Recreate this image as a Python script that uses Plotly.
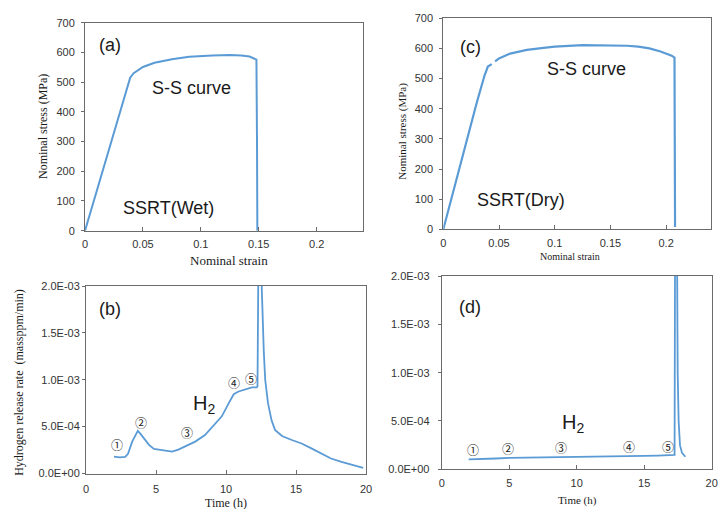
import plotly.graph_objects as go

# ---------------- data ----------------
strain_wet = [0, 0.01, 0.02, 0.03, 0.036, 0.039, 0.042, 0.046, 0.05, 0.06, 0.075, 0.09, 0.1, 0.11,
              0.125, 0.135, 0.142, 0.146, 0.148, 0.1485, 0.1488]
stress_wet = [0, 133, 266, 400, 480, 515, 530, 542, 551, 565, 577, 585, 588, 590,
              591, 590, 586, 580, 576, 300, 0]

strain_dry = [0, 0.01, 0.02, 0.03, 0.037, 0.040, 0.0435, 0.045, 0.0465, 0.05, 0.06, 0.075, 0.09, 0.1,
              0.125, 0.15, 0.165, 0.175, 0.185, 0.195, 0.2, 0.205, 0.2075, 0.2078, 0.208]
stress_dry = [0, 140, 285, 420, 510, 540, 548, None, 557, 567, 583, 595, 602, 606,
              611, 611, 609, 606, 600, 590, 584, 576, 570, 300, 8]

time_wet = [2.0, 2.4, 2.8, 3.0, 3.3, 3.6, 3.7, 3.85, 4.15, 4.5, 4.85, 5.2, 5.5, 5.8, 6.15, 6.6,
            7.1, 7.8, 8.5, 9.2, 9.7, 10.2, 10.55, 10.9, 11.4, 11.85, 12.2, 12.25, 12.4, 12.55,
            12.7, 12.8, 13.0, 13.25, 13.5, 14.0, 14.7, 15.4, 16.1, 16.8, 17.5, 18.25, 18.95, 19.8]
rate_wet = [1.8e-4, 1.72e-4, 1.78e-4, 2.1e-4, 3.4e-4, 4.4e-4, 4.55e-4, 4.3e-4, 3.7e-4, 3.05e-4,
            2.62e-4, 2.55e-4, 2.5e-4, 2.42e-4, 2.33e-4, 2.55e-4, 2.93e-4, 3.4e-4, 4.1e-4, 5.2e-4,
            6.1e-4, 7.5e-4, 8.45e-4, 8.75e-4, 9.0e-4, 9.18e-4, 9.2e-4, 9.3e-4, 4.0e-3, 2.0e-3,
            1.3e-3, 1.0e-3, 7.5e-4, 5.7e-4, 4.65e-4, 4.0e-4, 3.57e-4, 3.2e-4, 2.68e-4, 2.14e-4,
            1.6e-4, 1.25e-4, 0.96e-4, 0.6e-4]

time_dry = [2.0, 3.0, 4.0, 5.0, 6.5, 8.0, 9.0, 10.0, 11.0, 12.5, 14.0, 15.0, 16.0, 17.0, 17.25,
            17.33, 17.42, 17.48, 17.55, 17.65, 17.8, 18.05]
rate_dry = [1.03e-4, 1.05e-4, 1.12e-4, 1.18e-4, 1.2e-4, 1.22e-4, 1.25e-4, 1.28e-4, 1.32e-4,
            1.33e-4, 1.35e-4, 1.38e-4, 1.42e-4, 1.46e-4, 1.48e-4, 5.0e-3, 2.0e-3, 1.0e-3, 5.0e-4,
            2.5e-4, 1.7e-4, 1.3e-4]

stress_ticks = [0, 100, 200, 300, 400, 500, 600, 700]
strain_ticks = [0, 0.05, 0.1, 0.15, 0.2]
strain_labels = ["0", "0.05", "0.1", "0.15", "0.2"]
time_ticks = [0, 5, 10, 15, 20]
rate_ticks = [0, 5e-4, 1e-3, 1.5e-3, 2e-3]
rate_labels = ["0.0E+00", "5.0E-04", "1.0E-03", "1.5E-03", "2.0E-03"]

markers_wet = ["①", "②", "③", "④", "⑤"]
marker_wet_t = [2.2, 3.95, 7.2, 10.55, 11.82]
marker_wet_v = [3.05e-4, 5.4e-4, 4.35e-4, 9.75e-4, 1.01e-3]
marker_dry_t = [2.34, 4.93, 8.82, 13.88, 16.76]
marker_dry_v = [2.07e-4, 2.17e-4, 2.23e-4, 2.4e-4, 2.34e-4]

# ---------------- figure ----------------
W, H = 718, 509
LINE = "rgb(91,155,213)"
AX = "#6b6b6b"
TICKFONT = dict(family="Liberation Sans, Arial", size=11, color="#333333")
SERIF = "Liberation Serif, Times New Roman"

fig = go.Figure()
fig.add_trace(go.Scatter(x=strain_wet, y=stress_wet, mode="lines", line=dict(color=LINE, width=2),
                         xaxis="x", yaxis="y", connectgaps=False))
fig.add_trace(go.Scatter(x=strain_dry, y=stress_dry, mode="lines", line=dict(color=LINE, width=2.2),
                         xaxis="x2", yaxis="y2", connectgaps=False))
fig.add_trace(go.Scatter(x=time_wet, y=rate_wet, mode="lines", line=dict(color=LINE, width=1.8),
                         xaxis="x3", yaxis="y3"))
fig.add_trace(go.Scatter(x=time_dry, y=rate_dry, mode="lines", line=dict(color=LINE, width=1.8),
                         xaxis="x4", yaxis="y4"))


def px_dom_x(a, b):
    return [a / W, b / W]


def px_dom_y(top, bottom):
    return [1 - bottom / H, 1 - top / H]


def xax(dom, anchor, rng, tv, tt, stand):
    return dict(domain=dom, anchor=anchor, range=rng, tickvals=tv, ticktext=tt,
                showline=True, linecolor=AX, linewidth=1, mirror=True, showgrid=False,
                zeroline=False, ticks="inside", ticklen=4, tickcolor=AX, tickfont=TICKFONT,
                ticklabelstandoff=stand)


def yax(dom, anchor, rng, tv, tt, stand):
    return dict(domain=dom, anchor=anchor, range=rng, tickvals=tv, ticktext=tt,
                showline=True, linecolor=AX, linewidth=1, mirror=True, showgrid=False,
                zeroline=False, ticks="outside", ticklen=3, tickcolor=AX, tickfont=TICKFONT,
                ticklabelstandoff=stand)


fig.update_layout(
    width=W, height=H, margin=dict(l=0, r=0, t=0, b=0, autoexpand=False),
    paper_bgcolor="white", plot_bgcolor="white", showlegend=False,
    xaxis=xax(px_dom_x(85, 363), "y", [0, 0.24], strain_ticks, strain_labels, 3),
    yaxis=yax(px_dom_y(22.7, 230.7), "x", [0, 700], stress_ticks, [str(v) for v in stress_ticks], 4),
    xaxis2=xax(px_dom_x(443.3, 710.7), "y2", [0, 0.24], strain_ticks, strain_labels, 3),
    yaxis2=yax(px_dom_y(18.3, 229.3), "x2", [0, 700], stress_ticks, [str(v) for v in stress_ticks], 4),
    xaxis3=xax(px_dom_x(86, 366), "y3", [0, 20], time_ticks, [str(v) for v in time_ticks], 5),
    yaxis3=yax(px_dom_y(286, 473.5), "x3", [0, 2e-3], rate_ticks, rate_labels, 0),
    xaxis4=xax(px_dom_x(441.7, 711.7), "y4", [0, 20], time_ticks, [str(v) for v in time_ticks], 3),
    yaxis4=yax(px_dom_y(276, 469.3), "x4", [0, 2e-3], rate_ticks, rate_labels, 6),
)

ann = []


def text(x, y, s, xr, yr, size, family="Liberation Sans, Arial", color="#1a1a1a", **kw):
    ann.append(dict(x=x, y=y, xref=xr, yref=yr, text=s, showarrow=False,
                    xanchor="center", yanchor="middle",
                    font=dict(family=family, size=size, color=color), **kw))


# panel texts
text(0.0217, 625, "(a)", "x", "y", 18)
text(0.092, 479, "S-S curve", "x", "y", 18)
text(0.0723, 75, "SSRT(Wet)", "x", "y", 18)
text(0.024, 606, "(c)", "x2", "y2", 18)
text(0.1287, 532, "S-S curve", "x2", "y2", 18)
text(0.0697, 97, "SSRT(Dry)", "x2", "y2", 18)
text(1.72, 1.76e-3, "(b)", "x3", "y3", 18)
text(8.4, 7.4e-4, "H<sub>2</sub>", "x3", "y3", 20)
text(2.1, 1.68e-3, "(d)", "x4", "y4", 18)
text(9.74, 4.75e-4, "H<sub>2</sub>", "x4", "y4", 20)

CIRC = "Noto Sans CJK JP, DejaVu Sans"
for s, t, v in zip(markers_wet, marker_wet_t, marker_wet_v):
    text(t, v, s, "x3", "y3", 12, family=CIRC, color="#222222")
for s, t, v in zip(markers_wet, marker_dry_t, marker_dry_v):
    text(t, v, s, "x4", "y4", 12, family=CIRC, color="#222222")

# axis titles
text(229 / W, 1 - 260.7 / H, "Nominal strain", "paper", "paper", 13, family=SERIF)
text(43 / W, 1 - 127 / H, "Nominal stress (MPa)", "paper", "paper", 12, family=SERIF, textangle=-90)
text(570 / W, 1 - 256.7 / H, "Nominal strain", "paper", "paper", 10, family=SERIF)
text(402.7 / W, 1 - 131 / H, "Nominal stress (MPa)", "paper", "paper", 11, family=SERIF, textangle=-90)
text(18.3 / W, 1 - 382.5 / H, "Hydrogen release rate&nbsp;&nbsp;(massppm/min)", "paper", "paper", 12,
     family=SERIF, textangle=-90)
text(226 / W, 1 - 503 / H, "Time (h)", "paper", "paper", 12, family=SERIF)
text(577 / W, 1 - 500 / H, "Time (h)", "paper", "paper", 11, family=SERIF)

fig.update_layout(annotations=ann)
fig.write_html("out.html", config={"displayModeBar": False},
               post_script="document.body.style.margin='0';document.body.style.overflow='hidden';")
